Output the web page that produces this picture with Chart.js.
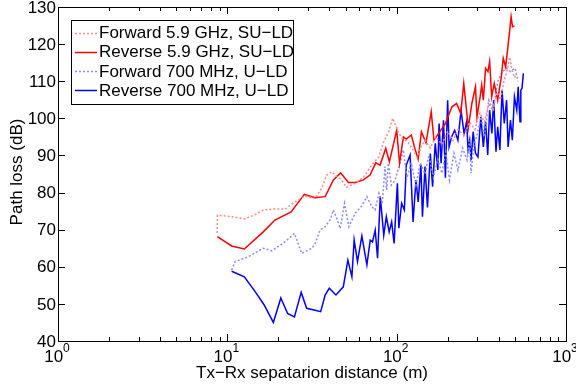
<!DOCTYPE html>
<html>
<head>
<meta charset="utf-8">
<script src="https://cdn.jsdelivr.net/npm/chart.js@4.4.1/dist/chart.umd.min.js"></script>
<style>
  html, body { margin: 0; padding: 0; background: #fff; }
  #wrap { width: 576px; height: 388px; }
</style>
</head>
<body>
<div id="wrap"><canvas id="chart"></canvas></div>
<script>
// distances in metres, path loss in dB
const fwd59Dist = [8.7, 8.75, 10.6, 12.7, 14.5, 16.3, 19.0, 21.9, 25.1, 28.8, 33, 36, 38.6, 41.3, 44, 47.2, 50.5, 56.8, 63.6, 71.3, 78.3, 83.9, 89.7, 94.7, 98.4, 103, 108, 116, 125, 132, 140, 147, 158, 170, 185, 200, 215, 230, 250, 270, 290, 310, 330, 350, 370, 390, 410, 430, 450, 465, 480, 495, 510];
const fwd59Loss = [69.1, 73.9, 73.5, 72.9, 74.0, 75.3, 75.6, 75.5, 77.5, 79.1, 78.4, 81.1, 84.7, 85.6, 84.5, 83.4, 81.4, 82.5, 84.1, 87.4, 89.6, 93.7, 96.4, 100, 98.2, 96, 94.5, 93.7, 91.5, 89.5, 92.5, 94.1, 92, 95, 93, 96.5, 94, 97, 95.5, 99, 97, 101.5, 99, 104, 102, 107, 105, 110, 113, 116.5, 113, 111, 112];

const rev59Dist = [8.73, 10.6, 12.6, 16.3, 19.1, 23.8, 28.5, 33, 37.8, 42.3, 46.7, 51.9, 56.8, 63.6, 69.6, 75.3, 79.8, 86.2, 90.6, 100, 104, 109.5, 114, 122, 128, 134, 140, 149, 160, 166, 180, 194, 212, 226, 239, 249, 265, 278, 292, 298, 311, 318, 325, 335, 346, 354, 364, 377, 395, 415, 426, 440, 453, 463, 474, 483, 496];
const rev59Loss = [68.1, 65.6, 64.8, 69.4, 72.6, 74.8, 79.5, 78.6, 78.9, 83.4, 85.3, 82.7, 82.7, 83.4, 84.7, 88.0, 87.4, 91.9, 88.3, 96.8, 87.9, 95, 94.4, 95.5, 91.9, 89, 96.4, 93.4, 101.8, 94.1, 96.4, 98.6, 103.1, 104, 101.3, 109.4, 97.5, 104, 108.5, 100.4, 105.8, 109, 104.9, 113.5, 112.6, 115.3, 105.8, 109.4, 104.9, 111.2, 116.2, 113.9, 118.9, 122.9, 127.4, 124.7, 124.9];

const fwd700Dist = [10.6, 11.1, 13.3, 16.3, 18.3, 21.9, 24.9, 27.5, 31.6, 33, 35.3, 37.8, 40.4, 42.3, 44.3, 46.4, 49.2, 52.2, 56.8, 61.7, 66.7, 71.3, 74.5, 78.6, 82.3, 85.3, 87.3, 89.3, 93, 98, 104.5, 109.4, 115, 122, 130, 138, 147, 155, 165, 175, 185, 195, 205, 218, 230, 245, 260, 270, 275, 285, 300, 315, 330, 350, 370, 395, 420, 445, 470, 500, 520];
const fwd700Loss = [59.1, 61.4, 62.7, 65, 64.3, 66.7, 69, 63.6, 65, 66.3, 69.9, 70.8, 72.6, 75.3, 73, 70.3, 77.1, 70.8, 74.4, 76.2, 78.9, 76.2, 75.3, 79.8, 77.1, 87, 80.7, 87.9, 82, 83.4, 87.9, 91.5, 84, 88, 82, 88, 85, 90, 84, 89, 85.2, 91, 83.4, 90.6, 86, 92, 88.8, 94, 85.2, 92.3, 96, 100.4, 95, 104.9, 102.2, 109.9, 112.5, 113.5, 112.6, 113.5, 110];

const rev700Dist = [10.6, 12.6, 14.6, 16.5, 18.7, 20.7, 22.7, 24.9, 27.3, 29.4, 33, 35.6, 37.8, 40, 43.8, 48.4, 51.5, 54.4, 56.1, 58.7, 62.3, 66.7, 69.8, 72, 74.7, 77.1, 80, 83.9, 86.9, 90.3, 93.4, 96.6, 101, 103, 107, 111, 114, 120, 125, 130, 134, 139, 142, 147, 152, 158, 163, 169, 175, 178, 183, 189, 194, 200, 204, 211, 220, 230, 240, 250, 259, 264, 270, 275, 283, 292, 302, 314, 325, 335, 345, 354, 365, 374, 386, 395, 407, 419, 432, 446, 455, 470, 482, 496, 512, 522, 535, 541, 550, 560];
const rev700Loss = [58.8, 57.3, 53.3, 49.7, 45, 51.6, 47.4, 46.5, 53.1, 48.8, 48.3, 47.9, 52.4, 54.2, 52.4, 54.6, 61.8, 57.3, 67.2, 61.4, 68.3, 60.5, 67.2, 66.7, 69.9, 62.3, 78.9, 68.5, 73.5, 69.4, 72.1, 66.3, 82.5, 70.4, 77.1, 75.3, 87.4, 90.1, 72.1, 83.4, 77.5, 87.4, 73.5, 87, 76, 90.5, 81.6, 93.3, 86.1, 98.6, 87.9, 99.5, 84, 104.9, 92.3, 95, 96.8, 94.1, 102.2, 95.9, 99.1, 91.5, 94.1, 88.8, 96.4, 90.6, 89.6, 100.4, 92.3, 99.1, 90.1, 102.2, 95.9, 104.9, 91, 97.7, 91.5, 107.6, 98.6, 104.9, 92.3, 99.5, 94.1, 105.8, 102.2, 108.5, 99.1, 107.6, 108.1, 112.1];

const seriesNames = ['Forward 5.9 GHz, SU\u2212LD', 'Reverse 5.9 GHz, SU\u2212LD', 'Forward 700 MHz, U\u2212LD', 'Reverse 700 MHz, U\u2212LD'];
const xTickValues = [1, 10, 100, 1000];
const xTickExps = ['0', '1', '2', '3'];
const yTickValues = [40, 50, 60, 70, 80, 90, 100, 110, 120, 130];

const FONT = '"Liberation Sans", Arial, sans-serif';

function toPoints(xs, ys) {
  return xs.map((x, i) => ({ x: x, y: ys[i] }));
}

const lightRed = '#ff8a8a';
const lightBlue = '#8a8aff';

const styles = [
  { color: lightRed, dash: [2, 2] },
  { color: '#ff0000', dash: [] },
  { color: lightBlue, dash: [2, 2] },
  { color: '#0000ff', dash: [] },
];

const datasets = [
  toPoints(fwd59Dist, fwd59Loss),
  toPoints(rev59Dist, rev59Loss),
  toPoints(fwd700Dist, fwd700Loss),
  toPoints(rev700Dist, rev700Loss),
].map((pts, i) => ({
  label: seriesNames[i],
  data: pts,
  borderColor: styles[i].color,
  borderDash: styles[i].dash,
  borderWidth: 1.5,
  pointRadius: 0,
  tension: 0,
  fill: false,
}));

// axes frame, inward ticks, labels and the boxed legend, MATLAB style
const frame = {
  id: 'frame',
  afterDatasetsDraw(chart) {
    const ctx = chart.ctx;
    const a = chart.chartArea;
    const xs = chart.scales.x;
    const ys = chart.scales.y;
    ctx.save();
    ctx.strokeStyle = '#000';
    ctx.lineWidth = 1;

    // box
    ctx.strokeRect(Math.round(a.left) + 0.5, Math.round(a.top) + 0.5,
      Math.round(a.right - a.left), Math.round(a.bottom - a.top));

    // x ticks (major + minor), bottom and top
    ctx.beginPath();
    for (let d = 1; d <= 1000; d *= 10) {
      for (let m = 1; m < 10; m++) {
        const v = d * m;
        if (v > 1000) break;
        const px = Math.round(xs.getPixelForValue(v)) + 0.5;
        const len = m === 1 ? 7 : 4;
        ctx.moveTo(px, a.bottom); ctx.lineTo(px, a.bottom - len);
        ctx.moveTo(px, a.top); ctx.lineTo(px, a.top + len);
      }
    }
    // y ticks, left and right
    yTickValues.forEach(v => {
      const py = Math.round(ys.getPixelForValue(v)) + 0.5;
      ctx.moveTo(a.left, py); ctx.lineTo(a.left + 7, py);
      ctx.moveTo(a.right, py); ctx.lineTo(a.right - 7, py);
    });
    ctx.stroke();

    // y tick labels
    ctx.fillStyle = '#000';
    ctx.font = '17px ' + FONT;
    ctx.textAlign = 'right';
    ctx.textBaseline = 'middle';
    yTickValues.forEach(v => {
      ctx.fillText(String(v), a.left - 2, ys.getPixelForValue(v) + 1);
    });

    // x tick labels 10^n
    xTickValues.forEach((v, i) => {
      const px = xs.getPixelForValue(v);
      ctx.font = '17px ' + FONT;
      const bw = ctx.measureText('10').width;
      ctx.font = '12px ' + FONT;
      const ew = ctx.measureText(xTickExps[i]).width;
      const x0 = px - (bw + ew) / 2 - 1;
      ctx.textAlign = 'left';
      ctx.textBaseline = 'alphabetic';
      ctx.font = '17px ' + FONT;
      ctx.fillText('10', x0, a.bottom + 21);
      ctx.font = '12px ' + FONT;
      ctx.fillText(xTickExps[i], x0 + bw, a.bottom + 11);
    });

    // axis titles
    ctx.font = '17px ' + FONT;
    ctx.textAlign = 'center';
    ctx.textBaseline = 'alphabetic';
    ctx.fillText('Tx\u2212Rx sepatarion distance (m)', (a.left + a.right) / 2, a.bottom + 37);
    ctx.save();
    ctx.translate(22, 172);
    ctx.rotate(-Math.PI / 2);
    ctx.fillText('Path loss (dB)', 0, 0);
    ctx.restore();

    // legend
    const lx = 71, ly = 20, lw = 222, lh = 84;
    ctx.fillStyle = '#fff';
    ctx.fillRect(lx, ly, lw, lh);
    ctx.strokeRect(lx + 0.5, ly + 0.5, lw, lh);
    ctx.font = '17px ' + FONT;
    ctx.textAlign = 'left';
    ctx.textBaseline = 'middle';
    seriesNames.forEach((name, i) => {
      const cy = 32.5 + i * 19.3;
      ctx.beginPath();
      ctx.strokeStyle = styles[i].color;
      ctx.lineWidth = 1.5;
      ctx.setLineDash(styles[i].dash);
      ctx.moveTo(75, Math.round(cy) + 0.5);
      ctx.lineTo(97, Math.round(cy) + 0.5);
      ctx.stroke();
      ctx.setLineDash([]);
      ctx.fillStyle = '#000';
      ctx.fillText(name, 99, cy + 1);
    });
    ctx.restore();
  }
};

new Chart(document.getElementById('chart'), {
  type: 'line',
  data: { datasets: datasets },
  options: {
    responsive: true,
    maintainAspectRatio: false,
    animation: false,
    layout: { padding: { left: 58, right: 10, top: 7, bottom: 47 } },
    plugins: { legend: { display: false }, tooltip: { enabled: false } },
    scales: {
      x: {
        type: 'logarithmic', min: 1, max: 1000, display: false,
      },
      y: {
        type: 'linear', min: 40, max: 130, display: false,
      },
    },
  },
  plugins: [frame],
});
</script>
</body>
</html>
